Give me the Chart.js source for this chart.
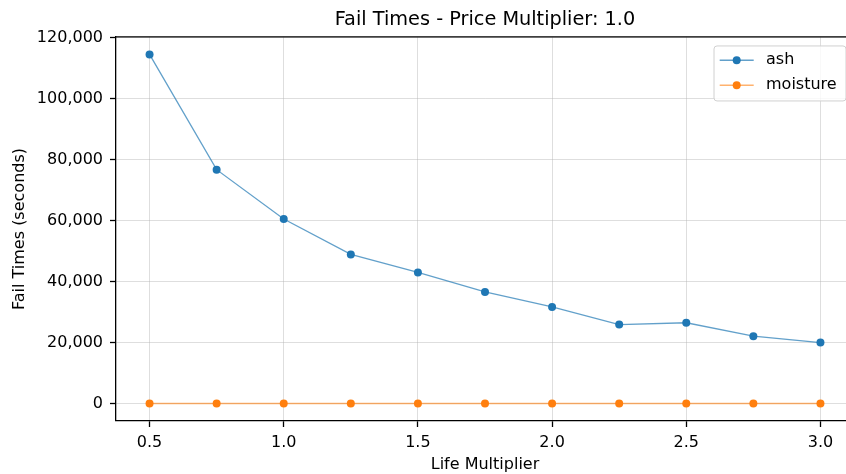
<!DOCTYPE html>
<html>
<head>
<meta charset="utf-8">
<script src="https://cdn.jsdelivr.net/npm/chart.js@4"></script>
<style>
  html, body { margin: 0; padding: 0; overflow: hidden; background: #fff; }
</style>
</head>
<body>
<canvas id="failChart" width="870" height="474"></canvas>
<script>
// Fail times vs life multiplier
var lifeMultiplier = [0.5, 0.75, 1.0, 1.25, 1.5, 1.75, 2.0, 2.25, 2.5, 2.75, 3.0];
var ashTimes = [114500, 76700, 60500, 48900, 43000, 36600, 31700, 25900, 26500, 22100, 20000];
var moistureTimes = [0, 0, 0, 0, 0, 0, 0, 0, 0, 0, 0];
var xTicks = [0.5, 1.0, 1.5, 2.0, 2.5, 3.0];
var yTicks = [0, 20000, 40000, 60000, 80000, 100000, 120000];

function toPoints(ys) {
    return lifeMultiplier.map(function (x, i) { return { x: x, y: ys[i] }; });
}

Chart.defaults.font.family = "'DejaVu Sans', sans-serif";
Chart.defaults.font.size = 16;
Chart.defaults.color = '#000';

// top/right spines + matplotlib-style legend box
var frameLegend = {
    id: 'frameLegend',
    afterDatasetsDraw: function (chart) {
        var ctx = chart.ctx, a = chart.chartArea;
        ctx.save();
        ctx.strokeStyle = '#000';
        ctx.lineWidth = 1.3;
        ctx.beginPath();
        ctx.moveTo(a.left, a.top);
        ctx.lineTo(a.right, a.top);
        ctx.lineTo(a.right, a.bottom);
        ctx.stroke();

        var w = 132, h = 55, x = a.right - 8 - w, y = a.top + 9;
        ctx.beginPath();
        ctx.roundRect(x, y, w, h, 3);
        ctx.fillStyle = 'rgba(255,255,255,0.8)';
        ctx.fill();
        ctx.strokeStyle = '#d0d0d0';
        ctx.lineWidth = 1;
        ctx.stroke();

        ctx.font = "16px 'DejaVu Sans', sans-serif";
        ctx.textBaseline = 'middle';
        ctx.textAlign = 'left';
        chart.data.datasets.forEach(function (ds, i) {
            var ry = y + 14.3 + i * 25;
            ctx.strokeStyle = ds.borderColor;
            ctx.lineWidth = 1.3;
            ctx.beginPath();
            ctx.moveTo(x + 5.7, ry);
            ctx.lineTo(x + 39.7, ry);
            ctx.stroke();
            ctx.fillStyle = ds.pointBackgroundColor;
            ctx.beginPath();
            ctx.arc(x + 22.7, ry, 4, 0, Math.PI * 2);
            ctx.fill();
            ctx.fillStyle = '#000';
            ctx.fillText(ds.label, x + 52, ry);
        });
        ctx.restore();
    }
};

new Chart(document.getElementById('failChart'), {
    type: 'line',
    data: {
        datasets: [{
            label: 'ash', data: toPoints(ashTimes),
            borderColor: 'rgba(31,119,180,0.7)', borderWidth: 1.3,
            pointBackgroundColor: '#1f77b4', pointBorderWidth: 0, pointRadius: 4
        }, {
            label: 'moisture', data: toPoints(moistureTimes),
            borderColor: 'rgba(255,127,14,0.6)', borderWidth: 1.5,
            pointBackgroundColor: '#ff7f0e', pointBorderWidth: 0, pointRadius: 4
        }]
    },
    options: {
        responsive: false, animation: false,
        layout: { padding: { left: 0, right: 16, top: 0, bottom: 0 } },
        plugins: {
            legend: { display: false },
            tooltip: { enabled: false },
            title: {
                display: true, text: 'Fail Times - Price Multiplier: 1.0',
                fullSize: false, color: '#000',
                font: { size: 19.3, weight: 'normal' },
                padding: { top: 8.4, bottom: 5.4 }
            }
        },
        scales: {
            x: {
                type: 'linear', min: 0.375, max: 3.125,
                afterBuildTicks: function (s) { s.ticks = xTicks.map(function (v) { return { value: v }; }); },
                afterFit: function (s) { s.height = 53; },
                ticks: { padding: 6, maxRotation: 0, callback: function (v) { return v.toFixed(1); } },
                grid: { color: 'rgba(176,176,176,0.42)', lineWidth: 1, tickLength: 6, tickColor: '#000', tickWidth: 1.3 },
                border: { display: true, color: '#000', width: 1.3 },
                title: { display: true, text: 'Life Multiplier', padding: 0 }
            },
            y: {
                type: 'linear', min: -5725, max: 120225,
                afterBuildTicks: function (s) { s.ticks = yTicks.map(function (v) { return { value: v }; }); },
                afterFit: function (s) { s.width = 116; },
                ticks: { padding: 7, callback: function (v) { return v.toLocaleString('en-US'); } },
                grid: { color: 'rgba(176,176,176,0.42)', lineWidth: 1, tickLength: 6, tickColor: '#000', tickWidth: 1.3 },
                border: { display: true, color: '#000', width: 1.3 },
                title: { display: true, text: 'Fail Times (seconds)', padding: 10 }
            }
        }
    },
    plugins: [frameLegend]
});
</script>
</body>
</html>
